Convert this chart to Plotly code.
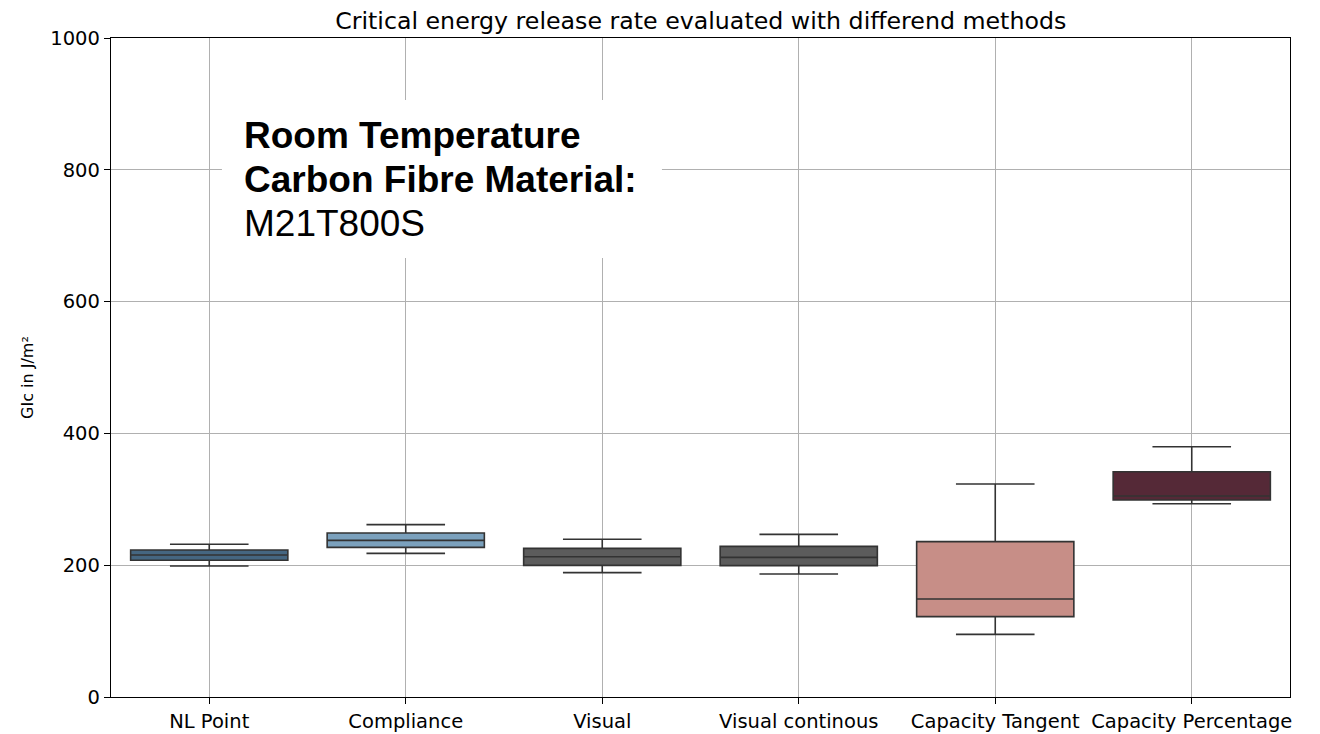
import plotly.graph_objects as go

categories = ["NL Point", "Compliance", "Visual", "Visual continous", "Capacity Tangent", "Capacity Percentage"]
lower_whisker = [198.8, 218.0, 188.7, 186.6, 95.0, 293.3]
q1_values = [207.4, 227.1, 199.8, 199.3, 121.9, 298.9]
medians = [215.5, 237.7, 212.9, 211.9, 148.7, 305.0]
q3_values = [223.0, 248.9, 225.6, 228.6, 235.7, 341.9]
upper_whisker = [231.7, 261.5, 239.3, 246.8, 323.2, 379.8]
box_colors = ["#456681", "#7ba1bd", "#5c5c5c", "#5c5c5c", "#c78e87", "#552937"]
y_ticks = [0, 200, 400, 600, 800, 1000]
note_lines = ["<b>Room Temperature</b>", "<b>Carbon Fibre Material:</b>", "M21T800S"]

fig = go.Figure()
for i, cat in enumerate(categories):
    fig.add_trace(go.Box(
        x=[cat],
        q1=[q1_values[i]], median=[medians[i]], q3=[q3_values[i]],
        lowerfence=[lower_whisker[i]], upperfence=[upper_whisker[i]],
        fillcolor=box_colors[i],
        line=dict(color="#333333", width=1.6),
        width=0.8,
        whiskerwidth=0.5,
        showlegend=False,
        hoverinfo="skip",
    ))

# white background box behind the note
fig.add_shape(type="rect", xref="paper", yref="paper",
              x0=0.0941, x1=0.4673, y0=0.6662, y1=0.9059,
              fillcolor="white", line=dict(width=0), layer="above")

line_y = [0.8528, 0.786, 0.7178]
for txt, yy in zip(note_lines, line_y):
    fig.add_annotation(
        xref="paper", yref="paper", x=0.1115, y=yy,
        xanchor="left", yanchor="middle",
        text=txt, align="left", showarrow=False,
        font=dict(family="Liberation Sans, Arial", size=37, color="black"),
    )

# y-axis label
fig.add_annotation(
    xref="paper", yref="paper", x=-0.0704, y=0.4856,
    xanchor="center", yanchor="middle", textangle=-90,
    text="GIc in J/m²", showarrow=False,
    font=dict(family="DejaVu Sans", size=16, color="black"),
)

fig.update_layout(
    width=1312, height=726,
    margin=dict(l=103, r=30, t=30, b=37, autoexpand=False),
    paper_bgcolor="white", plot_bgcolor="white",
    font=dict(family="DejaVu Sans", size=19.5, color="black"),
    title=dict(text="Critical energy release rate evaluated with differend methods",
               x=0.528, xanchor="center", y=0.983, yanchor="middle",
               font=dict(family="DejaVu Sans", size=23.7, color="black")),
    boxmode="overlay",
)
fig.update_xaxes(
    type="category", categoryorder="array", categoryarray=categories,
    range=[-0.5, 5.5], automargin=False,
    showline=True, linecolor="black", linewidth=1.3, mirror=True,
    ticks="outside", ticklen=6, tickcolor="black",
    showgrid=True, gridcolor="#b0b0b0", gridwidth=1,
    tickfont=dict(family="DejaVu Sans", size=19.5),
)
fig.update_yaxes(
    range=[0, 1000], tickvals=y_ticks, automargin=False,
    showline=True, linecolor="black", linewidth=1.3, mirror=True,
    ticks="outside", ticklen=6, tickcolor="black",
    showgrid=True, gridcolor="#b0b0b0", gridwidth=1, zeroline=False,
    tickfont=dict(family="DejaVu Sans", size=19.5),
)

fig.write_html("out.html")
